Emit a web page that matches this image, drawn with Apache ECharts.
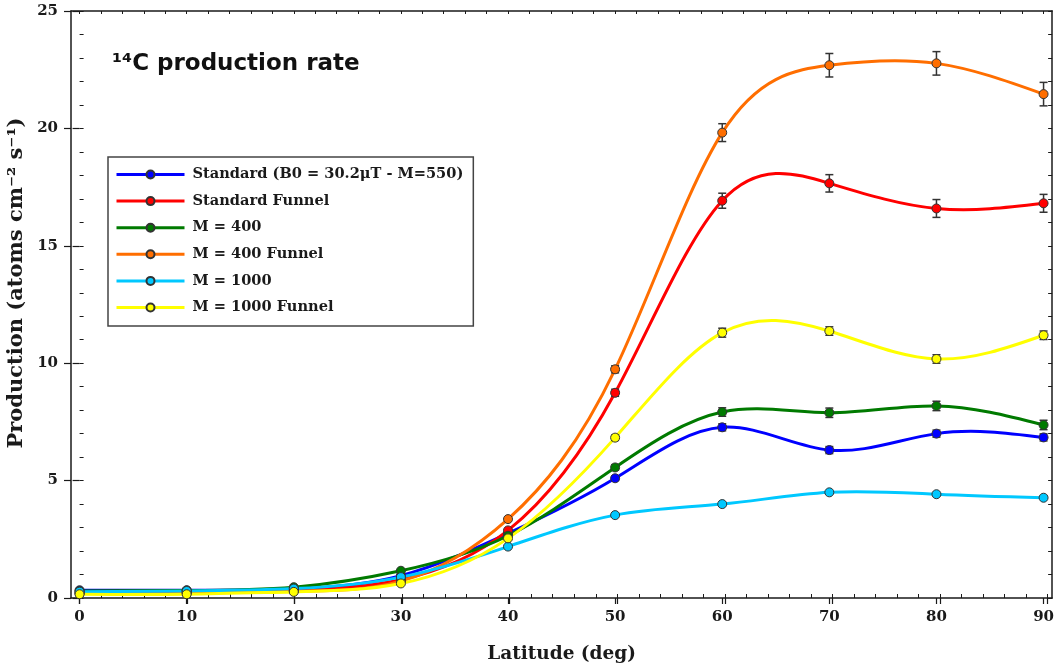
<!DOCTYPE html>
<html>
<head>
<meta charset="utf-8">
<title>14C production rate</title>
<script src="https://cdn.jsdelivr.net/npm/echarts@6/dist/echarts.min.js"></script>
<style>
  html, body { margin: 0; padding: 0; background: #fff; }
  #chart { width: 1057px; height: 672px; }
</style>
</head>
<body>
<div id="chart"></div>
<script>
// Latitude of each computed point (deg)
const latitudes = [0, 10, 20, 30, 40, 50, 60, 70, 80, 90];

// Production rates (atoms cm^-2 s^-1)
const standard       = [0.33, 0.33, 0.38, 0.95, 2.75, 5.10, 7.27, 6.30, 7.00, 6.84];
const standardFunnel = [0.20, 0.22, 0.30, 0.78, 2.88, 8.74, 16.92, 17.66, 16.59, 16.81];
const m400           = [0.30, 0.32, 0.46, 1.16, 2.65, 5.56, 7.92, 7.89, 8.18, 7.37];
const m400Funnel     = [0.20, 0.22, 0.30, 0.72, 3.36, 9.74, 19.82, 22.69, 22.77, 21.46];
const m1000          = [0.27, 0.30, 0.40, 0.89, 2.19, 3.53, 4.00, 4.50, 4.42, 4.27];
const m1000Funnel    = [0.16, 0.16, 0.26, 0.62, 2.54, 6.83, 11.30, 11.37, 10.18, 11.19];

// One-sigma uncertainties (0 = no bar drawn)
const standardErr       = [0, 0, 0, 0, 0, 0.10, 0.15, 0.15, 0.15, 0.15];
const standardFunnelErr = [0, 0, 0, 0, 0, 0.15, 0.32, 0.37, 0.38, 0.38];
const m400Err           = [0, 0, 0, 0, 0, 0.12, 0.18, 0.20, 0.20, 0.20];
const m400FunnelErr     = [0, 0, 0, 0, 0, 0.15, 0.38, 0.50, 0.50, 0.50];
const m1000Err          = [0, 0, 0, 0, 0, 0, 0, 0, 0, 0];
const m1000FunnelErr    = [0, 0, 0, 0, 0, 0.12, 0.19, 0.18, 0.18, 0.18];

const seriesNames = [
  'Standard (B0 = 30.2\u03bcT - M=550)',
  'Standard Funnel',
  'M = 400',
  'M = 400 Funnel',
  'M = 1000',
  'M = 1000 Funnel'
];
const seriesValues = [standard, standardFunnel, m400, m400Funnel, m1000, m1000Funnel];
const seriesErrors = [standardErr, standardFunnelErr, m400Err, m400FunnelErr, m1000Err, m1000FunnelErr];
const seriesColors = ['#0000ff', '#ff0000', '#007a00', '#ff6e00', '#00c8ff', '#ffff00'];

// Axis ticks
const xTickLabels = [0, 10, 20, 30, 40, 50, 60, 70, 80, 90];
const xMinorTicks = [];
for (let v = 0; v <= 90; v += 2) xMinorTicks.push(v);

const TITLE = '\u00b9\u2074C production rate';
const X_NAME = 'Latitude (deg)';
const Y_NAME = 'Production (atoms cm\u207b\u00b2 s\u207b\u00b9)';

const SERIF = '"DejaVu Serif", "Liberation Serif", serif';
const INK = '#1a1a1a';

const X_MIN = -0.8, X_MAX = 90.8, Y_MIN = 0, Y_MAX = 25;

// Natural cubic spline: slope (dy/dx) at every knot
function splineSlopes(xs, ys) {
  const n = xs.length;
  const h = [];
  for (let i = 0; i < n - 1; i++) h.push(xs[i + 1] - xs[i]);
  const a = new Array(n).fill(0), b = new Array(n).fill(0);
  const c = new Array(n).fill(0), d = new Array(n).fill(0);
  b[0] = 1; b[n - 1] = 1;
  for (let i = 1; i < n - 1; i++) {
    a[i] = h[i - 1];
    b[i] = 2 * (h[i - 1] + h[i]);
    c[i] = h[i];
    d[i] = 6 * ((ys[i + 1] - ys[i]) / h[i] - (ys[i] - ys[i - 1]) / h[i - 1]);
  }
  for (let i = 1; i < n; i++) {
    const w = a[i] / b[i - 1];
    b[i] -= w * c[i - 1];
    d[i] -= w * d[i - 1];
  }
  const M = new Array(n).fill(0);
  M[n - 1] = d[n - 1] / b[n - 1];
  for (let i = n - 2; i >= 0; i--) M[i] = (d[i] - c[i] * M[i + 1]) / b[i];
  const m = [];
  for (let i = 0; i < n - 1; i++) {
    m.push((ys[i + 1] - ys[i]) / h[i] - h[i] * (2 * M[i] + M[i + 1]) / 6);
  }
  m.push((ys[n - 1] - ys[n - 2]) / h[n - 2] + h[n - 2] * (M[n - 2] + 2 * M[n - 1]) / 6);
  return m;
}

// Draws one spline segment (knot k to k+1) as a cubic Bezier in pixel space
function curveRenderer(vals, slopes, color) {
  return function (params, api) {
    const k = params.dataIndex;
    if (k >= latitudes.length - 1) return null;
    const x0 = latitudes[k], x1 = latitudes[k + 1];
    const hs = (x1 - x0) / 3;
    const p0 = api.coord([x0, vals[k]]);
    const p1 = api.coord([x0 + hs, vals[k] + slopes[k] * hs]);
    const p2 = api.coord([x1 - hs, vals[k + 1] - slopes[k + 1] * hs]);
    const p3 = api.coord([x1, vals[k + 1]]);
    return {
      type: 'bezierCurve',
      shape: { x1: p0[0], y1: p0[1], x2: p3[0], y2: p3[1], cpx1: p1[0], cpy1: p1[1], cpx2: p2[0], cpy2: p2[1] },
      style: { stroke: color, lineWidth: 3, fill: null, lineCap: 'round' },
      silent: true
    };
  };
}

function errorBar(params, api) {
  const x = api.value(0);
  const lo = api.coord([x, api.value(1)]);
  const hi = api.coord([x, api.value(2)]);
  const hw = 4;
  const style = { stroke: '#333', lineWidth: 1.5 };
  return {
    type: 'group',
    children: [
      { type: 'line', shape: { x1: lo[0], y1: lo[1], x2: hi[0], y2: hi[1] }, style },
      { type: 'line', shape: { x1: lo[0] - hw, y1: lo[1], x2: lo[0] + hw, y2: lo[1] }, style },
      { type: 'line', shape: { x1: hi[0] - hw, y1: hi[1], x2: hi[0] + hw, y2: hi[1] }, style }
    ]
  };
}

const chart = echarts.init(document.getElementById('chart'), null, { renderer: 'canvas' });

const series = [];
seriesNames.forEach((name, i) => {
  const vals = seriesValues[i];
  const errs = seriesErrors[i];
  const points = latitudes.map((lat, k) => [lat, vals[k]]);
  const slopes = splineSlopes(latitudes, vals);

  // smooth curve through the points
  series.push({
    type: 'custom',
    name: name + ' curve',
    xAxisIndex: 0, yAxisIndex: 0,
    renderItem: curveRenderer(vals, slopes, seriesColors[i]),
    data: points,
    encode: { x: 0, y: 1 },
    clip: true,
    silent: true,
    z: 2 + i * 0.01
  });

  // error bars
  const bars = [];
  latitudes.forEach((lat, k) => {
    if (errs[k] > 0) bars.push([lat, vals[k] - errs[k], vals[k] + errs[k]]);
  });
  if (bars.length) {
    series.push({
      type: 'custom',
      name: name + ' error',
      xAxisIndex: 0, yAxisIndex: 0,
      renderItem: errorBar,
      data: bars,
      encode: { x: 0, y: [1, 2] },
      silent: true,
      z: 3 + i * 0.01
    });
  }

  // markers (the line itself is drawn by the curve series above)
  series.push({
    type: 'line',
    name: name,
    xAxisIndex: 0, yAxisIndex: 0,
    data: points,
    symbol: 'circle',
    symbolSize: 9,
    showSymbol: true,
    lineStyle: { color: seriesColors[i], width: 3, opacity: 0 },
    itemStyle: { color: seriesColors[i], borderColor: '#333', borderWidth: 1 },
    z: 4 + i * 0.01
  });
});

const gridRect = { left: 71, right: 1, top: 11, bottom: 74 };
const hidden = { show: false };

chart.setOption({
  backgroundColor: '#ffffff',
  animation: false,
  title: {
    text: TITLE,
    left: 112, top: 53, padding: 0,
    textStyle: { fontFamily: '"DejaVu Sans", sans-serif', fontWeight: 'bold', fontSize: 23, color: '#111' }
  },
  legend: {
    data: seriesNames,
    orient: 'vertical',
    left: 108, top: 157,
    padding: [10, 10, 11, 7],
    itemWidth: 68, itemHeight: 10, itemGap: 11.6,
    backgroundColor: '#fff',
    borderColor: '#444', borderWidth: 1.5, borderRadius: 0,
    lineStyle: { opacity: 1, width: 3 },
    textStyle: { fontFamily: SERIF, fontWeight: 'bold', fontSize: 14.6, color: INK, lineHeight: 14, padding: [0, 0, 0, 3] }
  },
  grid: [
    Object.assign({ containLabel: false }, gridRect),
    Object.assign({ containLabel: false }, gridRect)
  ],
  xAxis: [
    {
      gridIndex: 0, type: 'value', position: 'bottom', min: X_MIN, max: X_MAX,
      name: X_NAME, nameLocation: 'middle', nameGap: 47,
      nameTextStyle: { fontFamily: SERIF, fontWeight: 'bold', fontSize: 18.5, color: INK },
      axisLine: { show: true, onZero: false, lineStyle: { color: INK, width: 1.5 } },
      axisTick: { show: true, inside: false, length: 6, customValues: xTickLabels, lineStyle: { color: INK, width: 1.2 } },
      axisLabel: { show: true, margin: 12, customValues: xTickLabels, fontFamily: SERIF, fontWeight: 'bold', fontSize: 15, color: INK },
      splitLine: hidden
    },
    {
      gridIndex: 0, type: 'value', position: 'top', min: X_MIN, max: X_MAX,
      axisLine: { show: true, onZero: false, lineStyle: { color: INK, width: 1.5 } },
      axisTick: { show: true, inside: true, length: 3, customValues: xMinorTicks, lineStyle: { color: INK, width: 1 } },
      axisLabel: hidden, splitLine: hidden
    },
    {
      gridIndex: 1, type: 'value', position: 'bottom', min: X_MIN, max: X_MAX,
      axisLine: hidden,
      axisTick: { show: true, inside: true, length: 4, customValues: xMinorTicks, lineStyle: { color: INK, width: 1 } },
      axisLabel: hidden, splitLine: hidden
    },
    {
      gridIndex: 1, type: 'value', position: 'top', min: X_MIN, max: X_MAX,
      axisLine: hidden,
      axisTick: { show: true, inside: true, length: 6, customValues: xTickLabels, lineStyle: { color: INK, width: 1.2 } },
      axisLabel: hidden, splitLine: hidden
    }
  ],
  yAxis: [
    {
      gridIndex: 0, type: 'value', position: 'left', min: Y_MIN, max: Y_MAX, interval: 5,
      axisLine: { show: true, onZero: false, lineStyle: { color: INK, width: 1.5 } },
      axisTick: { show: true, inside: false, length: 7, lineStyle: { color: INK, width: 1.2 } },
      axisLabel: { show: true, margin: 13, fontFamily: SERIF, fontWeight: 'bold', fontSize: 15, color: INK },
      splitLine: hidden
    },
    {
      gridIndex: 0, type: 'value', position: 'right', min: Y_MIN, max: Y_MAX, interval: 1,
      axisLine: { show: true, onZero: false, lineStyle: { color: INK, width: 1.5 } },
      axisTick: { show: true, inside: true, length: 4, lineStyle: { color: INK, width: 1 } },
      axisLabel: hidden, splitLine: hidden
    },
    {
      gridIndex: 1, type: 'value', position: 'left', min: Y_MIN, max: Y_MAX, interval: 1,
      axisLine: hidden,
      axisTick: { show: true, inside: true, length: 4, lineStyle: { color: INK, width: 1 } },
      axisLabel: hidden, splitLine: hidden
    },
    {
      gridIndex: 1, type: 'value', position: 'right', min: Y_MIN, max: Y_MAX, interval: 5,
      axisLine: hidden,
      axisTick: { show: true, inside: true, length: 7, lineStyle: { color: INK, width: 1.2 } },
      axisLabel: hidden, splitLine: hidden
    }
  ],
  graphic: [
    {
      type: 'text',
      x: 17, y: 283,
      rotation: Math.PI / 2,
      style: {
        text: Y_NAME,
        fontFamily: SERIF, fontWeight: 'bold', fontSize: 21, fill: INK,
        align: 'center', verticalAlign: 'middle'
      }
    }
  ],
  series: series
});
</script>
</body>
</html>
